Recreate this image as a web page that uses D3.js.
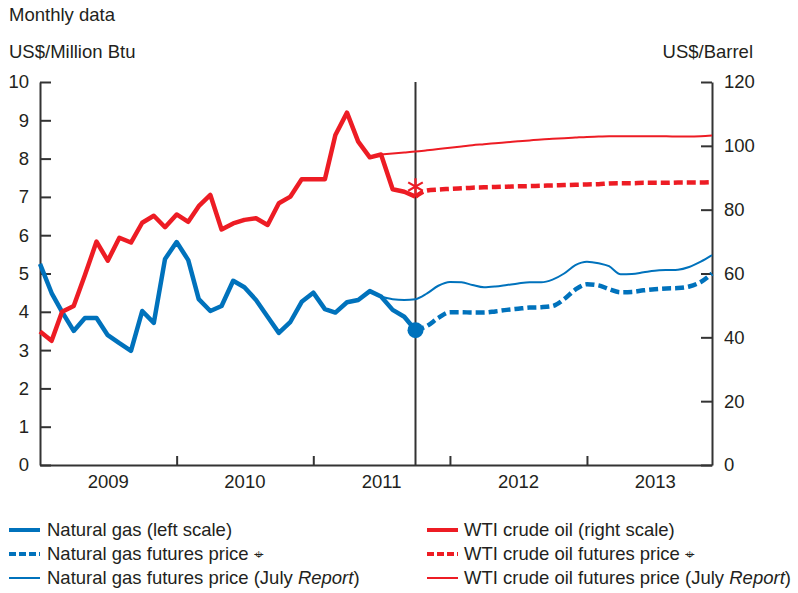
<!DOCTYPE html>
<html>
<head>
<meta charset="utf-8">
<script src="https://cdn.jsdelivr.net/npm/d3@7"></script>
<style>
  html, body { margin: 0; padding: 0; background: #fff; }
  svg { display: block; }
  text { font-family: "Liberation Sans", Arial, Helvetica, sans-serif; fill: #231f20; }
</style>
</head>
<body>
<svg id="chart" width="798" height="593"></svg>
<script>
// ---------------- DATA ----------------
const startMonth = new Date(2009, 0, 1);   // Jan 2009
const endMonth = new Date(2013, 11, 1);    // Dec 2013
const reportMonth = new Date(2011, 9, 1);  // Oct 2011 (vertical line)
const julyStartMonth = new Date(2011, 6, 1); // Jul 2011

// Natural gas, US$/Million Btu, Jan 2009 - Oct 2011
const gasHist = [5.25, 4.49, 4.00, 3.50, 3.84, 3.84, 3.39, 3.18, 2.98, 4.02, 3.71, 5.38,
                 5.82, 5.35, 4.33, 4.02, 4.15, 4.81, 4.64, 4.31, 3.87, 3.45, 3.74, 4.26,
                 4.50, 4.07, 3.98, 4.25, 4.31, 4.54, 4.40, 4.05, 3.87, 3.52];
// WTI crude oil, US$/Barrel, Jan 2009 - Oct 2011
const oilHist = [41.8, 38.9, 48.0, 49.8, 59.5, 70.0, 64.0, 71.2, 69.7, 75.9, 78.1, 74.5,
                 78.5, 76.2, 81.1, 84.6, 73.8, 75.7, 76.8, 77.3, 75.2, 82.0, 84.1, 89.5,
                 89.5, 89.5, 103.4, 110.4, 101.3, 96.4, 97.3, 86.4, 85.6, 84.1];
// Futures, Oct 2011 - Dec 2013
const gasFut = [3.52, 3.63, 3.84, 3.99, 3.99, 3.98, 3.98, 4.01, 4.05, 4.08, 4.11, 4.12,
                4.15, 4.33, 4.58, 4.72, 4.69, 4.59, 4.51, 4.52, 4.56, 4.59, 4.61, 4.62,
                4.66, 4.78, 5.00];
const oilFut = [84.1, 86.0, 86.3, 86.5, 86.7, 86.9, 87.0, 87.1, 87.2, 87.3, 87.4, 87.5,
                87.6, 87.7, 87.8, 87.9, 88.0, 88.2, 88.3, 88.3, 88.4, 88.4, 88.4, 88.5,
                88.5, 88.5, 88.6];
// Futures (July Report), Jul 2011 - Dec 2013
const gasJuly = [4.40, 4.33, 4.31, 4.33, 4.48, 4.68, 4.78, 4.77, 4.70, 4.64, 4.66, 4.70,
                 4.74, 4.77, 4.77, 4.84, 5.00, 5.22, 5.31, 5.27, 5.19, 4.98, 4.99, 5.03,
                 5.07, 5.09, 5.10, 5.17, 5.31, 5.48];
const oilJuly = [97.3, 97.6, 97.9, 98.2, 98.6, 99.0, 99.4, 99.8, 100.2, 100.5, 100.8, 101.1,
                 101.4, 101.7, 102.0, 102.2, 102.4, 102.6, 102.8, 102.9, 103.0, 103.0, 103.0, 103.0,
                 103.0, 103.0, 102.9, 102.9, 103.0, 103.2];

const leftTicks = [0, 1, 2, 3, 4, 5, 6, 7, 8, 9, 10];
const rightTicks = [0, 20, 40, 60, 80, 100, 120];
const yearLabels = ["2009", "2010", "2011", "2012", "2013"];

const legendLeft = [
  {label: ["Natural gas (left scale)"], color: "#0072bc", width: 4, dash: null},
  {label: ["Natural gas futures price ", "⌖"], color: "#0072bc", width: 4, dash: "7,3"},
  {label: ["Natural gas futures price (July ", "Report", ")"], color: "#0072bc", width: 2, dash: null}
];
const legendRight = [
  {label: ["WTI crude oil (right scale)"], color: "#ed1c24", width: 4, dash: null},
  {label: ["WTI crude oil futures price ", "⌖"], color: "#ed1c24", width: 4, dash: "7,3"},
  {label: ["WTI crude oil futures price (July ", "Report", ")"], color: "#ed1c24", width: 2, dash: null}
];

// ---------------- CHART ----------------
const BLUE = "#0072bc", RED = "#ed1c24", AXIS = "#333333";
const FS = "18.5px";
const svg = d3.select("#chart");

const x = d3.scaleTime().domain([startMonth, endMonth]).range([40, 712]);
const yL = d3.scaleLinear().domain([0, 10]).range([465, 82]);
const yR = d3.scaleLinear().domain([0, 120]).range([465, 82]);

const monthsFrom = (start, n) => d3.range(n).map(i => d3.timeMonth.offset(start, i));
const toPts = (start, arr) => monthsFrom(start, arr.length).map((d, i) => ({d, v: arr[i]}));

// Titles
svg.append("text").attr("x", 9).attr("y", 21).style("font-size", FS).text("Monthly data");
svg.append("text").attr("x", 9).attr("y", 58).style("font-size", FS).text("US$/Million Btu");
svg.append("text").attr("x", 753).attr("y", 58).attr("text-anchor", "end").style("font-size", FS).text("US$/Barrel");

// Axes
function styleAxis(g) {
  g.selectAll("path.domain").attr("stroke", AXIS).attr("stroke-width", 2);
  g.selectAll(".tick line").attr("stroke", AXIS).attr("stroke-width", 2);
  g.selectAll(".tick text").style("font-size", FS).attr("fill", "#231f20")
    .style("font-family", "'Liberation Sans', Arial, Helvetica, sans-serif");
}

const gLeft = svg.append("g").attr("transform", "translate(40,0)")
  .call(d3.axisLeft(yL).tickValues(leftTicks).tickSize(-11).tickSizeOuter(0).tickPadding(11).tickFormat(d3.format("d")));
styleAxis(gLeft);

const gRight = svg.append("g").attr("transform", "translate(712,0)")
  .call(d3.axisRight(yR).tickValues(rightTicks).tickSize(-11).tickSizeOuter(0).tickPadding(12).tickFormat(d3.format("d")));
styleAxis(gRight);

const yearBounds = yearLabels.slice(1).map(y => new Date(+y, 0, 1));
const gBottom = svg.append("g").attr("transform", "translate(0,465)")
  .call(d3.axisBottom(x).tickValues(yearBounds).tickSize(-9).tickSizeOuter(0).tickFormat(""));
styleAxis(gBottom);

const midYears = yearLabels.map(y => new Date(+y, 6, 1));
const gYears = svg.append("g").attr("transform", "translate(0,465)")
  .call(d3.axisBottom(x).tickValues(midYears).tickSize(0).tickPadding(10).tickFormat((d, i) => yearLabels[i]));
gYears.select("path.domain").remove();
styleAxis(gYears);

// Vertical report line
svg.append("line")
  .attr("x1", x(reportMonth)).attr("x2", x(reportMonth))
  .attr("y1", yL(10)).attr("y2", yL(0))
  .attr("stroke", AXIS).attr("stroke-width", 2);

// Lines
const lineL = d3.line().x(p => x(p.d)).y(p => yL(p.v));
const lineR = d3.line().x(p => x(p.d)).y(p => yR(p.v));
const smoothL = d3.line().curve(d3.curveMonotoneX).x(p => x(p.d)).y(p => yL(p.v));
const smoothR = d3.line().curve(d3.curveMonotoneX).x(p => x(p.d)).y(p => yR(p.v));

function drawLine(gen, data, color, width, dash) {
  svg.append("path").datum(data)
    .attr("d", gen)
    .attr("fill", "none")
    .attr("stroke", color)
    .attr("stroke-width", width)
    .attr("stroke-linejoin", "round")
    .attr("stroke-dasharray", dash);
}

drawLine(smoothL, toPts(julyStartMonth, gasJuly), BLUE, 2, null);
drawLine(smoothR, toPts(julyStartMonth, oilJuly), RED, 2, null);
drawLine(smoothL, toPts(reportMonth, gasFut), BLUE, 4.5, "9,4");
drawLine(smoothR, toPts(reportMonth, oilFut), RED, 4.5, "9,4");
drawLine(lineL, toPts(startMonth, gasHist), BLUE, 4.5, null);
drawLine(lineR, toPts(startMonth, oilHist), RED, 4.5, null);

// Markers at report month
svg.append("circle")
  .attr("cx", x(reportMonth)).attr("cy", yL(gasHist[gasHist.length - 1]))
  .attr("r", 8).attr("fill", BLUE);
svg.append("path")
  .attr("transform", `translate(${x(reportMonth)},${yR(oilHist[oilHist.length - 1]) - 10})`)
  .attr("d", d3.symbol(d3.symbolAsterisk, 200)())
  .attr("fill", "none").attr("stroke", RED).attr("stroke-width", 2.2);

// Legend
function legend(items, x0, textX) {
  items.forEach((it, i) => {
    const cy = 530 + i * 24;
    svg.append("line")
      .attr("x1", x0).attr("x2", x0 + 31).attr("y1", cy).attr("y2", cy)
      .attr("stroke", it.color).attr("stroke-width", it.width)
      .attr("stroke-dasharray", it.dash);
    const t = svg.append("text").attr("x", textX).attr("y", cy + 6).style("font-size", FS);
    it.label.forEach(s => {
      const ts = t.append("tspan").text(s);
      if (s === "Report") ts.style("font-style", "italic");
      if (s === "⌖") ts.style("font-size", "17px").style("font-family", "'DejaVu Sans', sans-serif");
    });
  });
}
legend(legendLeft, 9, 47);
legend(legendRight, 427, 464);
</script>
</body>
</html>
